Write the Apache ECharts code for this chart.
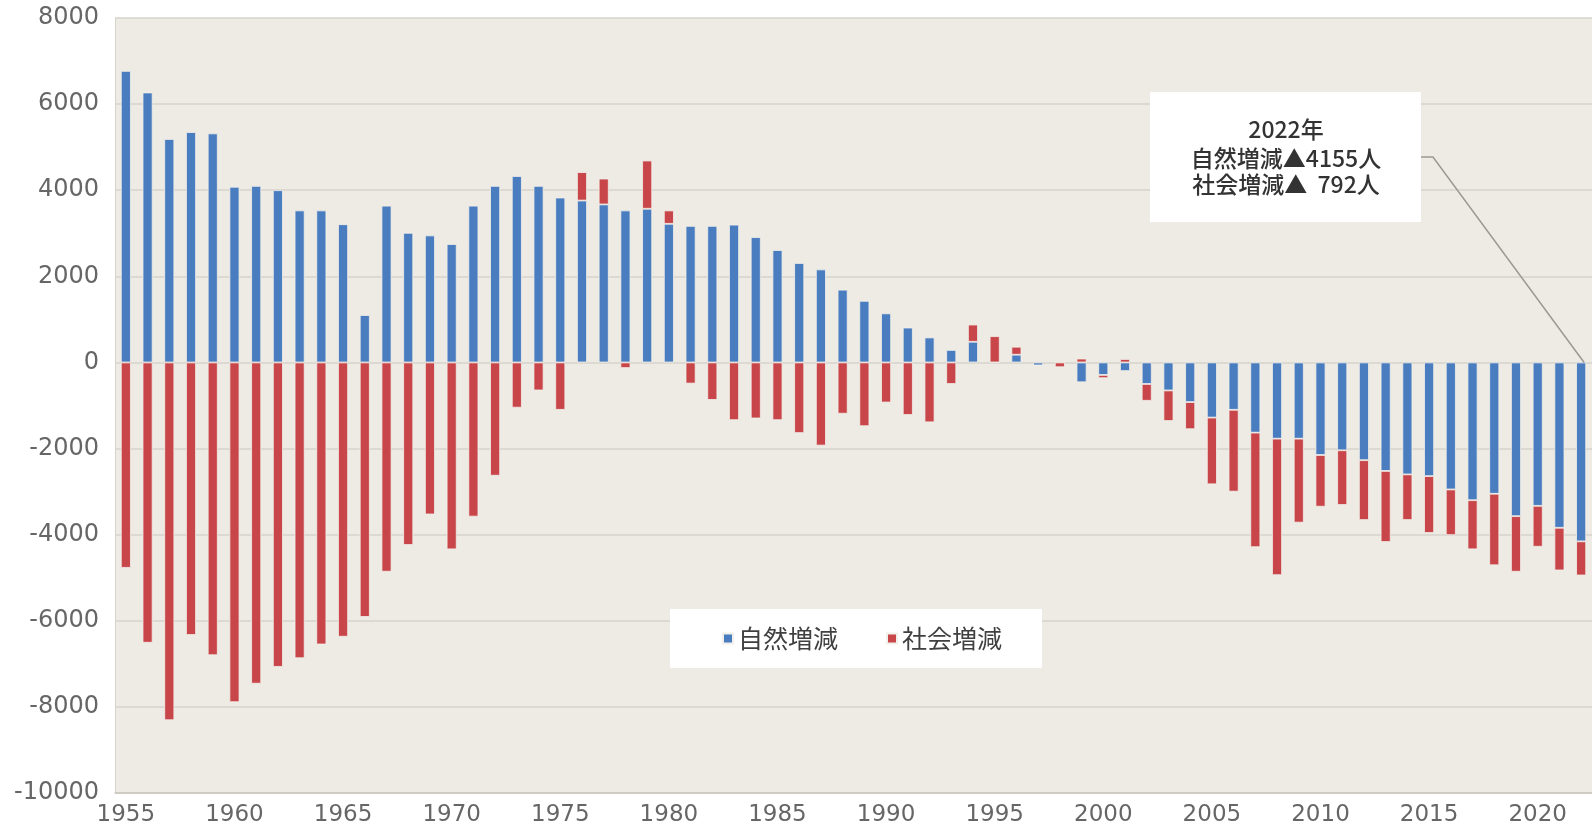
<!DOCTYPE html>
<html>
<head>
<meta charset="utf-8">
<script src="https://cdn.jsdelivr.net/npm/echarts@6/dist/echarts.min.js"></script>
<style>
  html, body { margin: 0; padding: 0; background: #fff; }
  #chart { width: 1592px; height: 829px; }
</style>
</head>
<body>
<div id="chart"></div>
<script>
// 年
var years = [];
for (var y = 1955; y <= 2022; y++) { years.push(String(y)); }

// 自然増減
var natural = [
    6770, 6270, 5190, 5350, 5320, 4080, 4100, 4000, 3530, 3530,
    3210, 1100, 3640, 3010, 2950, 2750, 3640, 4100, 4330, 4100,
    3830, 3760, 3670, 3530, 3570, 3220, 3170, 3170, 3200, 2910,
    2610, 2310, 2160, 1690, 1430, 1140, 810, 580, 290, 480,
    0, 180, -70, 0, -460, -290, -200, -500, -650, -920,
    -1280, -1100, -1630, -1770, -1770, -2150, -2040, -2270, -2520, -2600,
    -2640, -2950, -3200, -3050, -3570, -3330, -3840, -4155
];

// 社会増減
var social = [
    -4770, -6510, -8310, -6330, -6800, -7890, -7460, -7070, -6870, -6550,
    -6370, -5910, -4860, -4240, -3530, -4340, -3580, -2630, -1050, -650,
    -1100, 660, 600, -130, 1120, 310, -490, -870, -1340, -1300,
    -1340, -1640, -1930, -1190, -1480, -930, -1220, -1390, -500, 400,
    610, 185, 0, -110, 90, -75, 80, -390, -710, -630,
    -1550, -1900, -2660, -3170, -1950, -1200, -1270, -1390, -1650, -1060,
    -1320, -1060, -1140, -1660, -1290, -950, -990, -792
];

var seriesNames = ['自然増減', '社会増減'];
var noteLines = ['2022年', '自然増減▲4155人', '社会増減▲  792人'];

var chart = echarts.init(document.getElementById('chart'));

var option = {
    animation: false,
    backgroundColor: '#fff',
    grid: {
        left: 115,
        right: -5,
        top: 18,
        bottom: 36,
        show: true,
        backgroundColor: '#edebe4',
        borderWidth: 0
    },
    legend: {
        data: seriesNames,
        left: 670,
        top: 609,
        backgroundColor: '#fff',
        padding: [17, 40, 17, 52],
        icon: 'rect',
        itemWidth: 10,
        itemHeight: 10,
        itemGap: 48,
        textStyle: {
            fontSize: 25,
            color: '#404040',
            fontFamily: 'Noto Sans CJK JP'
        }
    },
    xAxis: {
        type: 'category',
        data: years,
        axisTick: { show: false },
        axisLine: { onZero: false, lineStyle: { color: '#c9c6bf', width: 1.5 } },
        axisLabel: {
            interval: 4,
            margin: 11,
            fontSize: 23,
            color: '#666',
            fontFamily: 'DejaVu Sans'
        }
    },
    yAxis: {
        type: 'value',
        min: -10000,
        max: 8000,
        interval: 2000,
        axisLine: { show: true, lineStyle: { color: '#d6d3cc' } },
        axisTick: { show: false },
        splitLine: { lineStyle: { color: '#d6d3cc', width: 1.5 } },
        axisLabel: {
            margin: 16,
            fontSize: 24,
            color: '#666',
            fontFamily: 'DejaVu Sans',
            formatter: function (v) { return String(v); }
        }
    },
    series: [
        {
            name: seriesNames[0],
            type: 'bar',
            stack: 'total',
            barWidth: 10,
            data: natural,
            itemStyle: { color: '#4a7dbf', borderColor: '#f2f0ea', borderWidth: 0.8 }
        },
        {
            name: seriesNames[1],
            type: 'bar',
            stack: 'total',
            barWidth: 10,
            data: social,
            itemStyle: { color: '#c8464a', borderColor: '#f2f0ea', borderWidth: 0.8 }
        }
    ]
};
chart.setOption(option);

// 注記ボックスと引き出し線
var target = chart.convertToPixel({ gridIndex: 0 }, ['2022', 0]);
var noteFont = '500 23px "Noto Sans CJK JP"';
chart.setOption({
    graphic: [
        {
            type: 'rect',
            shape: { x: 1150, y: 92, width: 271, height: 130 },
            style: { fill: '#fff' },
            z: 10
        },
        {
            type: 'text',
            style: { text: noteLines[0], x: 1286, y: 129, font: noteFont, fill: '#333', align: 'center', verticalAlign: 'middle' },
            z: 11
        },
        {
            type: 'text',
            style: { text: noteLines[1], x: 1286, y: 158, font: noteFont, fill: '#333', align: 'center', verticalAlign: 'middle' },
            z: 11
        },
        {
            type: 'text',
            style: { text: noteLines[2], x: 1286, y: 184, font: noteFont, fill: '#333', align: 'center', verticalAlign: 'middle' },
            z: 11
        },
        {
            type: 'polyline',
            shape: { points: [[1421, 157], [1433, 157], [target[0] + 3, target[1]]] },
            style: { stroke: '#9a9a94', lineWidth: 1.5, fill: null },
            z: 10
        }
    ]
});
</script>
</body>
</html>
